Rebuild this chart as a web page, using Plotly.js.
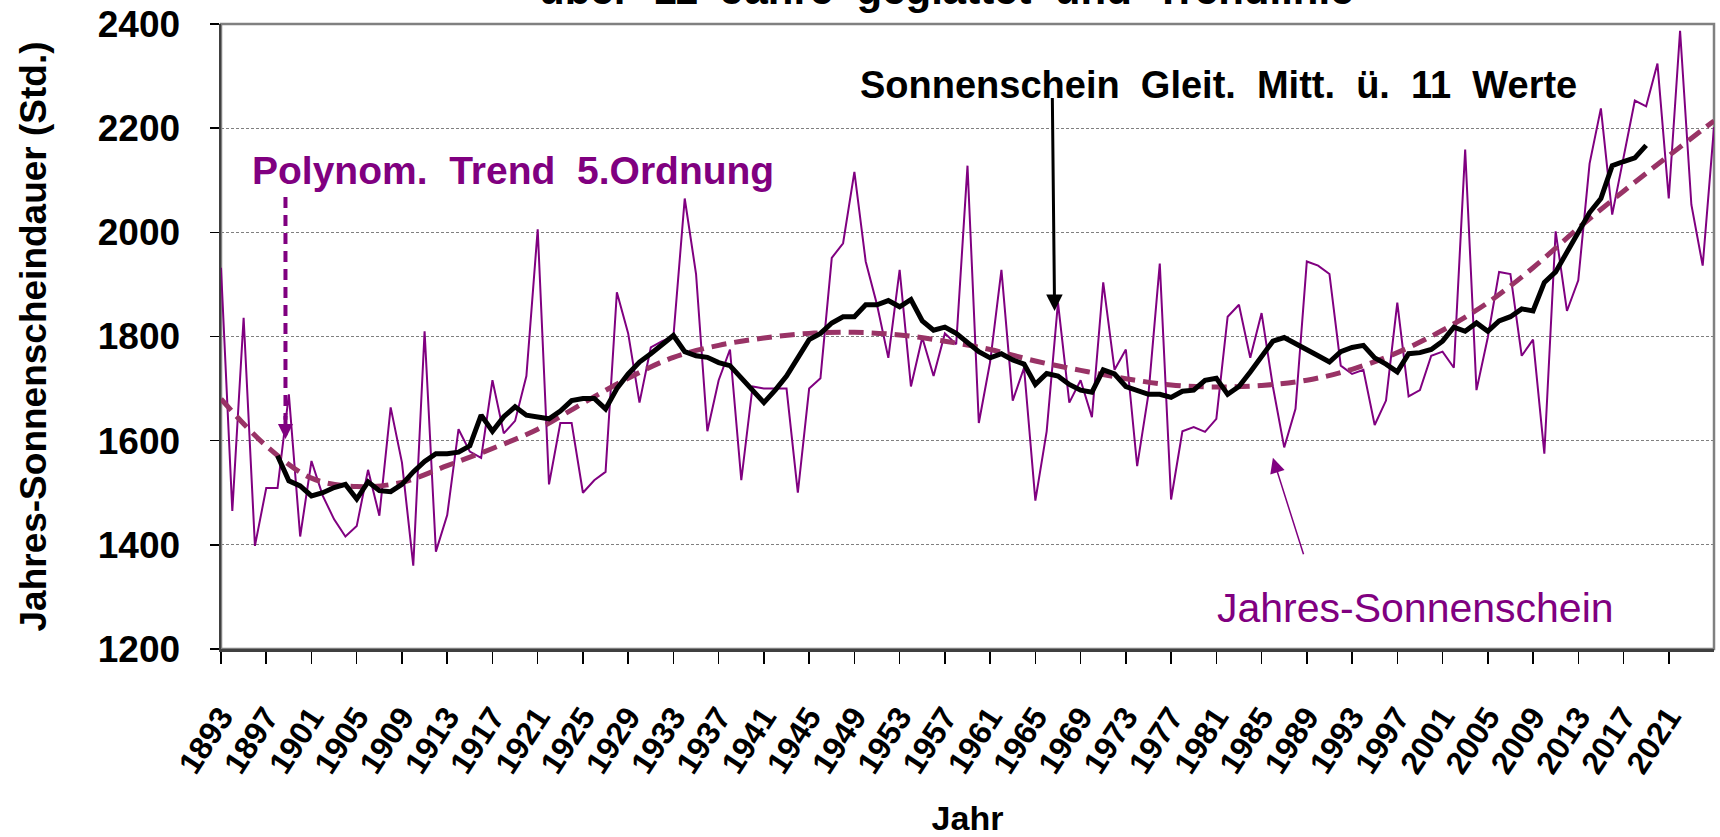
<!DOCTYPE html>
<html>
<head>
<meta charset="utf-8">
<script src="https://cdn.plot.ly/plotly-3.0.1.min.js"></script>
<style>
  html, body { margin: 0; padding: 0; background: #ffffff; }
  #chart { width: 1720px; height: 837px; }
</style>
</head>
<body>
<div id="chart"></div>
<script>
// ---------- DATA ----------
const firstYear = 1893;

// Jahres-Sonnenscheindauer (Std.), 1893 .. 2025
const sunshine = [
  1932, 1465, 1836, 1398, 1509, 1509, 1689, 1416, 1561, 1494,   // 1893-1902
  1449, 1416, 1436, 1544, 1456, 1664, 1558, 1360, 1810, 1387,   // 1903-1912
  1457, 1622, 1579, 1567, 1716, 1614, 1638, 1724, 2006, 1516,   // 1913-1922
  1634, 1634, 1500, 1524, 1540, 1885, 1806, 1673, 1779, 1791,   // 1923-1932
  1800, 2065, 1920, 1618, 1716, 1775, 1524, 1704, 1700, 1700,   // 1933-1942
  1700, 1500, 1700, 1720, 1951, 1979, 2116, 1944, 1861, 1759,   // 1943-1952
  1928, 1704, 1798, 1724, 1806, 1785, 2128, 1634, 1751, 1928,   // 1953-1962
  1677, 1740, 1485, 1618, 1865, 1673, 1716, 1645, 1904, 1736,   // 1963-1972
  1775, 1551, 1690, 1940, 1487, 1618, 1626, 1617, 1642, 1838,   // 1973-1982
  1861, 1759, 1845, 1704, 1587, 1661, 1944, 1936, 1920, 1744,   // 1983-1992
  1728, 1736, 1630, 1677, 1865, 1685, 1697, 1763, 1771, 1740,   // 1993-2002
  2159, 1697, 1798, 1924, 1920, 1763, 1794, 1575, 2002, 1849,   // 2003-2012
  1908, 2132, 2238, 2034, 2140, 2253, 2242, 2324, 2065, 2387,   // 2013-2022
  2053, 1936, 2202                                              // 2023-2025
];

// Gleitendes Mittel über 11 Werte, 1898 .. 2019
const maFirstYear = 1898;
const movingAvg = [
  1571, 1523, 1513, 1494, 1500, 1510, 1516, 1488, 1521, 1504,   // 1898-1907
  1502, 1516, 1540, 1560, 1575, 1575, 1578, 1590, 1649, 1618,   // 1908-1917
  1646, 1665, 1649, 1646, 1642, 1657, 1677, 1681, 1681, 1661,   // 1918-1927
  1700, 1728, 1751, 1767, 1783, 1802, 1771, 1763, 1760, 1750,   // 1928-1937
  1744, 1720, 1697, 1673, 1697, 1724, 1759, 1794, 1806, 1826,   // 1938-1947
  1838, 1838, 1861, 1861, 1869, 1857, 1871, 1830, 1812, 1818,   // 1948-1957
  1806, 1790, 1771, 1759, 1767, 1755, 1747, 1708, 1729, 1724,   // 1958-1967
  1708, 1697, 1693, 1736, 1728, 1704, 1697, 1689, 1689, 1683,   // 1968-1977
  1695, 1697, 1716, 1720, 1689, 1704, 1732, 1763, 1791, 1798,   // 1978-1987
  1787, 1775, 1763, 1751, 1771, 1779, 1783, 1759, 1747, 1732,   // 1988-1997
  1767, 1769, 1775, 1791, 1818, 1810, 1826, 1810, 1830, 1838,   // 1998-2007
  1853, 1849, 1904, 1924, 1963, 2002, 2038, 2065, 2128, 2136,   // 2008-2017
  2143, 2167                                                    // 2018-2019
];

// Polynomischer Trend 5. Ordnung, read at these years
const trendYears = [1893, 1897, 1901, 1905, 1909, 1913, 1917, 1921, 1925, 1929,
  1933, 1937, 1941, 1945, 1949, 1953, 1957, 1961, 1965, 1969,
  1973, 1977, 1981, 1985, 1989, 1993, 1997, 2001, 2005, 2009,
  2013, 2017, 2021, 2025];
const trendValues = [1680, 1590, 1528, 1512, 1520, 1552, 1585, 1622, 1672, 1720,
  1760, 1783, 1797, 1806, 1808, 1803, 1791, 1775, 1753, 1735,
  1719, 1707, 1703, 1706, 1716, 1737, 1769, 1812, 1865, 1932,
  2008, 2079, 2147, 2214];

// x-axis tick labels
const tickYears = [1893, 1897, 1901, 1905, 1909, 1913, 1917, 1921, 1925, 1929,
  1933, 1937, 1941, 1945, 1949, 1953, 1957, 1961, 1965, 1969,
  1973, 1977, 1981, 1985, 1989, 1993, 1997, 2001, 2005, 2009,
  2013, 2017, 2021];
const yTicks = [1200, 1400, 1600, 1800, 2000, 2200, 2400];

// ---------- TRACES ----------
const sunYears = sunshine.map((_, i) => firstYear + i);
const maYears = movingAvg.map((_, i) => maFirstYear + i);

const PURPLE = '#800080';
const PLUM = '#993366';
const FONT = 'Liberation Sans, Arial, sans-serif';

const traces = [
  {
    x: sunYears, y: sunshine, type: 'scatter', mode: 'lines',
    name: 'Jahres-Sonnenschein',
    line: { color: PURPLE, width: 2 },
    hoverinfo: 'x+y'
  },
  {
    x: trendYears, y: trendValues, type: 'scatter', mode: 'lines',
    name: 'Polynom. Trend 5.Ordnung',
    line: { color: PLUM, width: 5, dash: '15px,8px', shape: 'spline', smoothing: 1 },
    hoverinfo: 'x+y'
  },
  {
    x: maYears, y: movingAvg, type: 'scatter', mode: 'lines',
    name: 'Sonnenschein Gleit. Mitt. ü. 11 Werte',
    line: { color: '#000000', width: 5 },
    hoverinfo: 'x+y'
  }
];

const nb = '\u00a0';
const layout = {
  width: 1720, height: 837,
  margin: { l: 221, r: 6, t: 24, b: 188, pad: 0 },
  paper_bgcolor: '#ffffff', plot_bgcolor: '#ffffff',
  showlegend: false,
  font: { family: FONT, color: '#000000' },
  xaxis: {
    range: [1893, 2025],
    tickmode: 'array', tickvals: tickYears, ticktext: tickYears.map(String),
    tickangle: -57,
    tickfont: { family: FONT, size: 32, color: '#000000', weight: 'bold' },
    ticks: 'outside', ticklen: 12, tickwidth: 1.5, tickcolor: '#000000',
    ticklabelstandoff: 22,
    showgrid: false, zeroline: false,
    showline: true, linecolor: '#404040', linewidth: 2.5,
    title: { text: 'Jahr', font: { family: FONT, size: 34, color: '#000000', weight: 'bold' }, standoff: 30 },
    automargin: false
  },
  yaxis: {
    range: [1200, 2400],
    tickmode: 'array', tickvals: yTicks, ticktext: yTicks.map(String),
    tickfont: { family: FONT, size: 37, color: '#000000', weight: 'bold' },
    ticks: 'outside', ticklen: 9, tickwidth: 1.5, tickcolor: '#000000',
    ticklabelstandoff: 22,
    showgrid: true, gridcolor: '#808080', gridwidth: 1, griddash: '3px,2px',
    zeroline: false,
    showline: true, linecolor: '#404040', linewidth: 2.5,
    title: { text: 'Jahres-Sonnenscheindauer (Std.)', font: { family: FONT, size: 37, color: '#000000', weight: 'bold' }, standoff: 40 },
    automargin: false
  },
  shapes: [
    // plot frame (top/right in grey)
    { type: 'rect', xref: 'paper', yref: 'paper', x0: 0, x1: 1, y0: 0, y1: 1,
      line: { color: '#808080', width: 2.5 }, layer: 'below' },
    // dashed pointer from trend label
    { type: 'line', xref: 'x', yref: 'y', x0: 1898.7, x1: 1898.7, y0: 2068, y1: 1640,
      line: { color: PURPLE, width: 4, dash: '11px,7px' } }
  ],
  annotations: [
    // title (mostly cut off at the top, as in the reference)
    { xref: 'paper', yref: 'paper', x: 0.4856, y: 1.0545, xanchor: 'center', yanchor: 'middle',
      text: 'über' + nb + ' 11' + nb + ' Jahre' + nb + ' geglättet' + nb + ' und' + nb + ' Trendlinie',
      showarrow: false, font: { family: FONT, size: 42, color: '#000000', weight: 'bold' } },
    // labels
    { xref: 'x', yref: 'y', x: 1895.6, y: 2119, xanchor: 'left', yanchor: 'middle',
      text: 'Polynom.' + nb + ' Trend' + nb + ' 5.Ordnung', showarrow: false,
      font: { family: FONT, size: 39, color: PURPLE, weight: 'bold' } },
    { xref: 'x', yref: 'y', x: 1949.3, y: 2283, xanchor: 'left', yanchor: 'middle',
      text: 'Sonnenschein' + nb + ' Gleit.' + nb + ' Mitt.' + nb + ' ü.' + nb + ' 11' + nb + ' Werte', showarrow: false,
      font: { family: FONT, size: 38, color: '#000000', weight: 'bold' } },
    { xref: 'x', yref: 'y', x: 1980.9, y: 1279, xanchor: 'left', yanchor: 'middle',
      text: 'Jahres-Sonnenschein', showarrow: false,
      font: { family: FONT, size: 41, color: PURPLE } },
    // arrow heads / arrows
    { xref: 'x', yref: 'y', axref: 'x', ayref: 'y', x: 1898.7, y: 1603, ax: 1898.7, ay: 1650,
      text: '', showarrow: true, arrowhead: 2, arrowsize: 0.75, arrowwidth: 4, arrowcolor: PURPLE },
    { xref: 'x', yref: 'y', axref: 'x', ayref: 'y', x: 1966.7, y: 1849, ax: 1966.5, ay: 2261,
      text: '', showarrow: true, arrowhead: 2, arrowsize: 1.1, arrowwidth: 3, arrowcolor: '#000000' },
    { xref: 'x', yref: 'y', axref: 'x', ayref: 'y', x: 1986.0, y: 1567, ax: 1988.75, ay: 1379,
      text: '', showarrow: true, arrowhead: 2, arrowsize: 2, arrowwidth: 1.5, arrowcolor: PURPLE }
  ]
};

Plotly.newPlot('chart', traces, layout, { displayModeBar: false, staticPlot: true });
</script>
</body>
</html>
